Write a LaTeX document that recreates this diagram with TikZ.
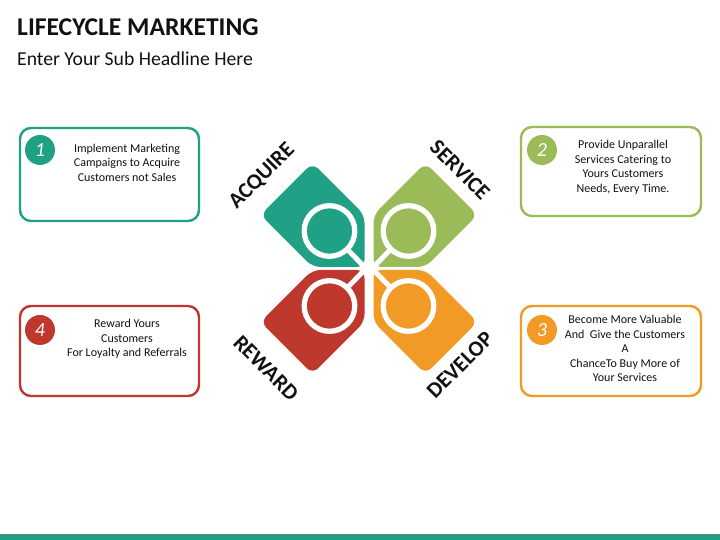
\documentclass[tikz,border=0pt]{standalone}
\usepackage{fontspec}
\setmainfont{Carlito}
\usepackage{tikz}
\usetikzlibrary{
  calc,
  positioning
}
\definecolor{acqteal}{RGB}{32,160,132}
\definecolor{servgreen}{RGB}{155,187,89}
\definecolor{rewred}{RGB}{190,56,46}
\definecolor{devorange}{RGB}{241,154,38}
\definecolor{inkblack}{RGB}{17,17,17}
\tikzset{
  headline/.style={font=\fontsize{25.6}{25.6}\selectfont\bfseries,text=inkblack,
    inner sep=0pt},
  subline/.style={font=\fontsize{19.7}{19.7}\selectfont,text=inkblack,
    inner sep=0pt},
  card/.style={draw=#1,line width=2.4pt,rounded corners=11pt,fill=white,
    inner sep=0pt},
  badge/.style={circle,fill=#1,minimum size=30pt,inner sep=0pt,text=white,
    font=\fontsize{20}{20}\selectfont\itshape},
  blurb/.style={align=center,text=inkblack,inner sep=0pt,
    font=\fontsize{12}{14.5}\selectfont},
  stage/.style={font=\fontsize{22}{22}\selectfont\bfseries,text=inkblack,
    inner sep=0pt},
  lens/.style={draw=white,line width=5.3pt},
  handle/.style={draw=white,line width=5pt}
}

\begin{document}
\begin{tikzpicture}[x=1pt,y=1pt]
  \useasboundingbox (0,0) rectangle (720,540);

  \node[headline,anchor=base west] (title) at (17,504.5) {LIFECYCLE MARKETING};
  \node[subline,anchor=base west] (subtitle) at (17,474) {Enter Your Sub Headline Here};

  % four price tags round the centre
  \foreach \col/\kx/\ky/\sx/\sy in {acqteal/364.5/273/-1/1,
      servgreen/373.5/273/1/1, rewred/364.5/270/-1/-1,
      devorange/373.5/270/1/-1}{
    \begin{scope}[shift={(\kx,\ky)},xscale=\sx,yscale=\sy]
      \fill[\col,rounded corners=8pt] (0,0) -- (0,52) -- (52,104)
        -- (104,52) -- (52,0) -- cycle;
      \draw[lens] (35,36) circle (25.3);
      \draw[handle] (17.4,17.9) -- (-1,-1);
    \end{scope}
  }

  \node[stage,rotate=45] (acquire) at (262,364) {ACQUIRE};
  \node[stage,rotate=-45] (service) at (460,370) {SERVICE};
  \node[stage,rotate=-45] (reward) at (266,172) {REWARD};
  \node[stage,rotate=45] (develop) at (460,175) {DEVELOP};

  % text cards
  \node[card=acqteal,minimum width=179pt,minimum height=93pt] (card1) at (109.5,365.5) {};
  \node[card=servgreen,minimum width=180pt,minimum height=89pt] (card2) at (611,368.5) {};
  \node[card=devorange,minimum width=180pt,minimum height=90pt] (card3) at (611,189) {};
  \node[card=rewred,minimum width=179pt,minimum height=90pt] (card4) at (109.5,189) {};

  \node[badge=acqteal] (num1) at (40,390) {1};
  \node[badge=servgreen] (num2) at (542,390) {2};
  \node[badge=devorange] (num3) at (542,210) {3};
  \node[badge=rewred] (num4) at (40,210) {4};

  \node[blurb] (txt1) at (127,377.5) {Implement Marketing\\
    Campaigns to Acquire\\Customers not Sales};
  \node[blurb] (txt2) at (623,372.5) {Provide Unparallel\\
    Services Catering to\\Yours Customers\\Needs, Every Time.};
  \node[blurb] (txt3) at (625,191.5) {Become More Valuable\\
    And~ Give the Customers\\A\\ChanceTo Buy More of\\Your Services};
  \node[blurb] (txt4) at (127,201) {Reward Yours\\Customers\\
    For Loyalty and Referrals};

  % footer band
  \fill[acqteal] (0,0) rectangle (720,5);
  \draw[acqteal!45!gray,line width=0.6pt] (0,6) -- (720,6);
\end{tikzpicture}
\end{document}
